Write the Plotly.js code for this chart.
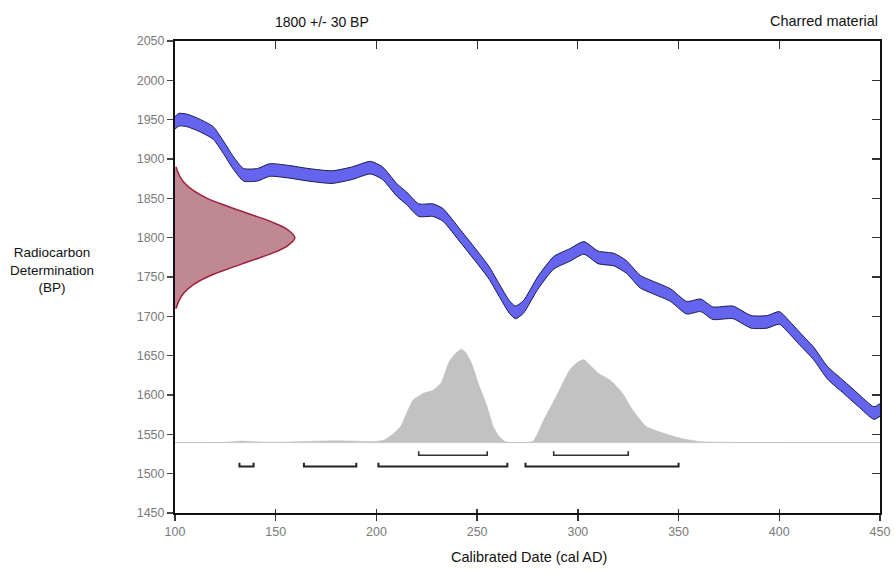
<!DOCTYPE html>
<html>
<head>
<meta charset="utf-8">
<script src="https://cdn.plot.ly/plotly-3.0.1.min.js"></script>
<style>html,body{margin:0;padding:0;background:#fff;}#chart{width:895px;height:572px;}</style>
</head>
<body>
<div id="chart"></div>
<script>
// Calibration curve (centre, BP)
const calYears = [100,102,106,112,119,124,129,134,141,147,156,166,178,188,197,203,210,215,221,228,233,242,251,256,261,266,269,273,280,288,296,303,310,318,324,331,337,346,354,361,367,377,386,394,400,405,410,417,424,432,439,447,450];
const calBP    = [1946,1950,1949,1943,1933,1915,1895,1880,1880,1886,1884,1880,1877,1882,1889,1882,1861,1850,1835,1835,1829,1801,1772,1755,1733,1712,1705,1712,1742,1768,1778,1787,1775,1772,1763,1744,1737,1727,1711,1714,1704,1705,1693,1693,1698,1686,1672,1653,1628,1610,1594,1577,1581];
const calHalfWidth = 8;

// Radiocarbon determination 1800 +/- 30 BP (profile)
const rcBP    = [1890,1880,1870,1860,1850,1840,1830,1820,1810,1800,1790,1780,1770,1760,1750,1740,1730,1720,1710];
const rcWidth = [0.5,2,4.5,9,16,26,37,48,56,59.5,56,48,37,26,16,9,4.5,2,0.5];

// Calibrated probability distribution (top edge, BP units)
const probYears = [100,110,125,133,140,150,165,180,195,200,204,208,212,218,223,228,232,236,239,242,244,247,251,255,258,261,264,268,274,278,283,290,296,300,303,306,310,316,322,327,334,342,351,360,370,450];
const probTop   = [1539.5,1539.5,1540,1541.5,1540.5,1540,1541,1542,1541,1541,1543,1550,1560,1593,1602,1606,1615,1642,1652,1658,1655,1642,1612,1585,1560,1547,1541,1539.5,1539.5,1542,1568,1602,1632,1642,1645,1638,1628,1619,1603,1582,1560,1552,1545,1541,1540,1539.5];
const probBase  = 1539.5;

// Calibrated ranges (cal AD)
const range68Start = [221, 288];
const range68End   = [255, 325];
const range95Start = [132, 164, 201, 274];
const range95End   = [139, 190, 265, 350];

const xTicks = [100,150,200,250,300,350,400,450];
const yTicks = [1450,1500,1550,1600,1650,1700,1750,1800,1850,1900,1950,2000,2050];

// layout constants for bracket rows
const row68 = 1523.5, row95 = 1509, bracketTick = 5;

function brackets(starts, ends, level) {
  const x = [], y = [];
  starts.forEach((s, i) => {
    x.push(s, s, ends[i], ends[i], null);
    y.push(level + bracketTick, level, level, level + bracketTick, null);
  });
  return {x, y};
}

const upper = calBP.map(v => v + calHalfWidth);
const lower = calBP.map(v => v - calHalfWidth);

const b68 = brackets(range68Start, range68End, row68);
const b95 = brackets(range95Start, range95End, row95);

const traces = [
  {x: probYears, y: probYears.map(() => probBase), mode: 'lines', line: {color: '#c8c8c8', width: 1}, hoverinfo: 'skip'},
  {x: probYears, y: probTop, mode: 'lines', fill: 'tonexty', fillcolor: '#c2c2c2', line: {color: '#c2c2c2', width: 0.5, shape: 'spline', smoothing: 0.5}, hoverinfo: 'skip'},
  {x: rcWidth.map(w => 100 + w), y: rcBP, mode: 'lines', fill: 'tozerox', fillcolor: '#c08892', line: {color: '#a0203a', width: 1.5, shape: 'spline'}, hoverinfo: 'skip'},
  {x: calYears, y: lower, mode: 'lines', line: {color: '#1a1a4a', width: 1, shape: 'spline', smoothing: 0.6}, hoverinfo: 'skip'},
  {x: calYears, y: upper, mode: 'lines', fill: 'tonexty', fillcolor: '#6464ee', line: {color: '#1a1a4a', width: 1, shape: 'spline', smoothing: 0.6}, hoverinfo: 'skip'},
  {x: b68.x, y: b68.y, mode: 'lines', line: {color: '#333', width: 1.6}, hoverinfo: 'skip'},
  {x: b95.x, y: b95.y, mode: 'lines', line: {color: '#222', width: 2}, hoverinfo: 'skip'},
  {x: [], y: [], xaxis: 'x2', yaxis: 'y2', hoverinfo: 'skip'},
  {x: [], y: [], xaxis: 'x3', yaxis: 'y', hoverinfo: 'skip'}
];

const fam = 'Liberation Sans, Arial, sans-serif';
const tickFont = {family: fam, size: 12.5, color: '#7a7a7a'};

const layout = {
  width: 895, height: 572,
  margin: {l: 175, r: 15, t: 41, b: 59},
  paper_bgcolor: '#fff', plot_bgcolor: '#fff',
  showlegend: false,
  xaxis: {range: [100, 450], tickvals: xTicks, ticktext: xTicks.map(String), ticks: 'outside', ticklen: 6, tickwidth: 1.5, tickcolor: '#333',
          showline: true, linewidth: 2, linecolor: '#111', showgrid: false, zeroline: false, tickfont: tickFont},
  xaxis3: {overlaying: 'x', side: 'bottom', anchor: 'y', range: [100, 450], tickvals: xTicks, ticks: 'inside', ticklen: 4, tickwidth: 1.5, tickcolor: '#333',
           showticklabels: false, showline: false, showgrid: false, zeroline: false},
  yaxis: {range: [1450, 2050], tickvals: yTicks, ticktext: yTicks.map(String), ticks: 'outside', ticklen: 6, tickwidth: 1.2, tickcolor: '#444',
          showline: true, linewidth: 2, linecolor: '#111', showgrid: false, zeroline: false, tickfont: tickFont},
  xaxis2: {overlaying: 'x', side: 'top', anchor: 'y2', range: [100, 450], tickvals: xTicks, ticks: 'inside', ticklen: 8, tickwidth: 1.2, tickcolor: '#333',
           showticklabels: false, showline: true, linewidth: 2, linecolor: '#111', showgrid: false, zeroline: false},
  yaxis2: {overlaying: 'y', side: 'right', anchor: 'x2', range: [1450, 2050], tickvals: yTicks, ticks: 'inside', ticklen: 8, tickwidth: 1.2, tickcolor: '#333',
           showticklabels: false, showline: true, linewidth: 2, linecolor: '#111', showgrid: false, zeroline: false},
  annotations: [
    {text: '1800 +/- 30 BP', xref: 'paper', yref: 'paper', x: 0.2085, y: 1.0403, xanchor: 'center', yanchor: 'middle', showarrow: false, font: {family: fam, size: 14, color: '#111'}},
    {text: 'Charred material', xref: 'paper', yref: 'paper', x: 1.0, y: 1.0424, xanchor: 'right', yanchor: 'middle', showarrow: false, font: {family: fam, size: 14.5, color: '#111'}},
    {text: 'Radiocarbon<br>Determination<br>(BP)', xref: 'paper', yref: 'paper', x: -0.175, y: 0.515, xanchor: 'center', yanchor: 'middle', showarrow: false, font: {family: fam, size: 13.5, color: '#111'}, align: 'center'},
    {text: 'Calibrated Date (cal AD)', xref: 'paper', yref: 'paper', x: 0.5021, y: -0.0932, xanchor: 'center', yanchor: 'middle', showarrow: false, font: {family: fam, size: 14.5, color: '#111'}}
  ]
};

Plotly.newPlot('chart', traces, layout, {staticPlot: true, displayModeBar: false});
</script>
</body>
</html>
